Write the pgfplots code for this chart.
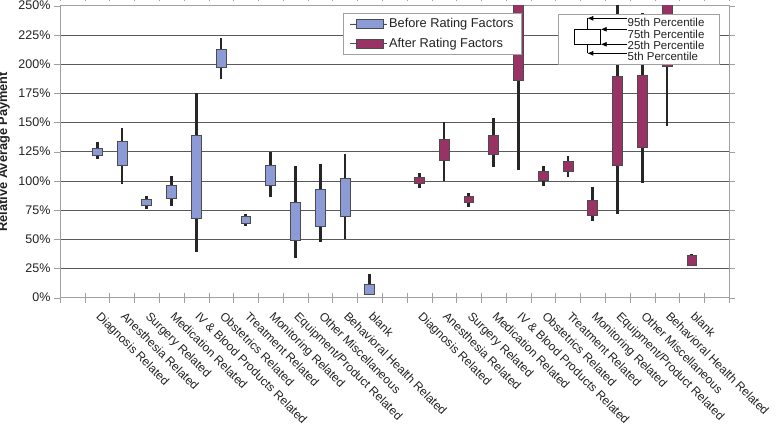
\documentclass[border=0pt]{standalone}
\usepackage{fontspec}
\setmainfont{Liberation Sans}
\usepackage{pgfplots}
\pgfplotsset{compat=1.18}
\usepgfplotslibrary{statistics}
\usetikzlibrary{arrows.meta}

\definecolor{before}{HTML}{8C9AD6}
\definecolor{after}{HTML}{993366}
\definecolor{gridc}{HTML}{5A5A5A}
\definecolor{framec}{HTML}{A0A0A0}
\definecolor{txt}{HTML}{222222}

% \bp{position}{5th}{25th}{75th}{95th}{colour}
\newcommand{\bp}[6]{%
  \addplot[forget plot,
    boxplot/draw direction=y,
    boxplot prepared={draw position=#1, lower whisker=#2, lower quartile=#3,
      median=#3, upper quartile=#4, upper whisker=#5,
      box extend=0.4, whisker extend=0},
    boxplot/every box/.style={fill=#6, draw=black!70, line width=0.6pt},
    boxplot/every whisker/.style={draw=black!85, line width=2.8pt},
    boxplot/every median/.style={draw=none}] coordinates {};}

\begin{document}
\begin{tikzpicture}
\begin{axis}[
  scale only axis, width=669pt, height=292pt,
  xmin=-0.5, xmax=26.5, ymin=0, ymax=250,
  axis line style={draw=framec},
  tick align=outside,
  major tick length=6pt, minor tick length=10pt,
  ytick={0,25,...,250},
  yticklabels={0\%,25\%,50\%,75\%,100\%,125\%,150\%,175\%,200\%,225\%,250\%},
  y tick style={draw=framec},
  ymajorgrids, major grid style={draw=gridc, line width=0.6pt},
  xtick={1,2,3,4,5,6,7,8,9,10,11,12,14,15,16,17,18,19,20,21,22,23,24,25},
  xticklabels={Diagnosis Related,Anesthesia Related,Surgery Related,Medication Related,IV \& Blood Products Related,Obstetrics Related,Treatment Related,Monitoring Related,Equipment/Product Related,Other Miscellaneous,Behavioral Health Related,blank,
    Diagnosis Related,Anesthesia Related,Surgery Related,Medication Related,IV \& Blood Products Related,Obstetrics Related,Treatment Related,Monitoring Related,Equipment/Product Related,Other Miscellaneous,Behavioral Health Related,blank},
  minor xtick={-0.5,0.5,...,26.5},
  major x tick style={draw=none},
  minor x tick style={draw=framec, yshift=5pt},
  xticklabel style={xshift=4.5pt, yshift=-5.5pt, rotate=-45, anchor=north west, inner sep=1pt, font=\fontsize{12}{14}\selectfont, text=txt},
  yticklabel style={font=\fontsize{12.5}{14}\selectfont, text=txt},
  ylabel={Relative Average Payment},
  ylabel style={at={(axis description cs:-0.084,0.5)}, anchor=center, font=\bfseries\fontsize{12.8}{14}\selectfont, text=txt},
  legend style={at={(0.4235,0.974)}, anchor=north west, draw=framec,
    font=\fontsize{12.8}{14}\selectfont, text=txt, row sep=5pt,
    inner xsep=6pt, inner ysep=3pt},
  legend cell align=left,
  legend image code/.code={\path (0pt,0pt) -- (37pt,0pt);\draw[#1] (6pt,-4.5pt) rectangle (33pt,4.5pt);},
]
\addlegendimage{fill=before, draw=black!70, line width=0.6pt}
\addlegendentry{Before Rating Factors}
\addlegendimage{fill=after, draw=black!70, line width=0.6pt}
\addlegendentry{After Rating Factors}

% Before rating factors
\bp{1}{118.4}{121.9}{127.9}{133.6}{before}
\bp{2}{97}{113}{133.6}{145}{before}
\bp{3}{75.6}{78.8}{84.5}{87}{before}
\bp{4}{78.8}{85}{96.5}{104.5}{before}
\bp{5}{39.4}{68}{139}{175}{before}
\bp{6}{187}{197}{213}{222}{before}
\bp{7}{61.4}{63.6}{69.3}{71.3}{before}
\bp{8}{86.5}{96.5}{113}{125}{before}
\bp{9}{33.7}{49.4}{81.6}{112.7}{before}
\bp{10}{47.4}{60.8}{93}{114.2}{before}
\bp{11}{50.2}{69.3}{102.2}{122.7}{before}
\bp{12}{2}{3}{11.7}{20}{before}
% After rating factors
\bp{14}{94.2}{97.9}{102.7}{107}{after}
\bp{15}{99.9}{117.3}{135.6}{150}{after}
\bp{16}{77.9}{81.6}{86.5}{89.9}{after}
\bp{17}{111.6}{123}{138.7}{153.5}{after}
\bp{18}{109.3}{186.4}{265}{300}{after}
\bp{19}{95.9}{100.2}{107.9}{113}{after}
\bp{20}{103}{107.9}{116.4}{121.3}{after}
\bp{21}{65.6}{70.8}{83.6}{94.5}{after}
\bp{22}{71.6}{113}{189.2}{280}{after}
\bp{23}{98.5}{128.4}{190}{243.5}{after}
\bp{24}{147.3}{197.8}{260}{290}{after}
\bp{25}{27.5}{28}{36.5}{37.4}{after}
\end{axis}

% percentile key
\begin{scope}[shift={(current axis.north west)}, xshift=-60pt, yshift=5.7pt, x=1pt, y=-1pt]
  \draw[framec, fill=white, line width=0.6pt] (558.3,14) rectangle (719,64);
  \begin{scope}[black, line width=0.8pt]
    \draw (587.3,18.3) -- (587.3,29.3);
    \draw (587.3,44.3) -- (587.3,53.3);
    \draw[line width=0.6pt] (574,29.3) rectangle (600.7,44.3);
    \draw[-{Latex[length=6pt,width=5pt]}] (627,18.3) -- (587.3,18.3);
    \draw[-{Latex[length=6pt,width=5pt]}] (627,29.3) -- (600.7,29.3);
    \draw[-{Latex[length=6pt,width=5pt]}] (627,44.3) -- (600.7,44.3);
    \draw[-{Latex[length=6pt,width=5pt]}] (627,53.3) -- (587.3,53.3);
  \end{scope}
  \begin{scope}[every node/.style={anchor=west, inner sep=0pt, text=txt, font=\fontsize{11.5}{11.5}\selectfont}]
    \node at (627.5,22.7) {95th Percentile};
    \node at (627.5,33.9) {75th Percentile};
    \node at (627.5,45.1) {25th Percentile};
    \node at (627.5,56.5) {5th Percentile};
  \end{scope}
\end{scope}
\pgfresetboundingbox
\path (current axis.north west) ++(-60pt,5.7pt) rectangle ++(777pt,-443pt);
\end{tikzpicture}
\end{document}
